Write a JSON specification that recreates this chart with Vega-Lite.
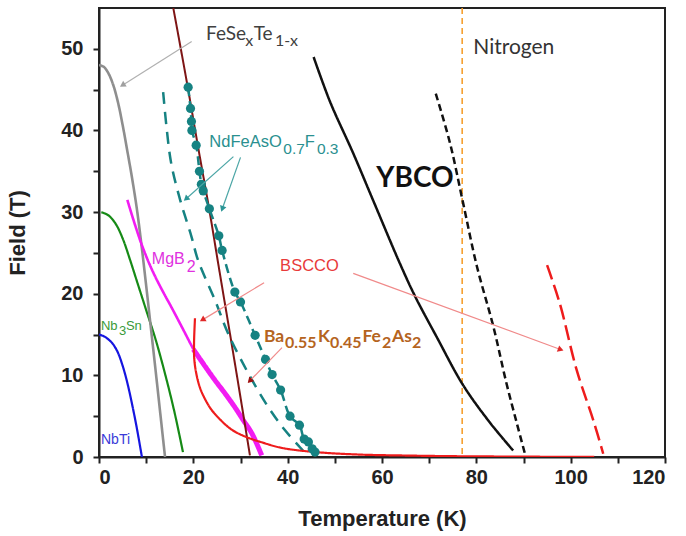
{
"$schema": "https://vega.github.io/schema/vega-lite/v6.json",
"width": 566, "height": 449,
"autosize": "none",
"padding": {"left": 99, "top": 8, "right": 21, "bottom": 79},
"background": "white",
"config": {
 "view": {"stroke": "#222", "strokeWidth": 2},
 "axis": {"grid": false, "domainColor": "#222", "domainWidth": 2, "tickColor": "#222", "tickWidth": 2, "tickSize": 6,
  "labelFont": "Liberation Sans", "labelFontWeight": "bold", "labelFontSize": 20, "labelColor": "#222",
  "titleFont": "Liberation Sans", "titleFontWeight": "bold", "titleFontSize": 22, "titleColor": "#222"}
},
"datasets": {
 "curves": [
  {"series":"NbTi","x":0,"y":15},{"series":"NbTi","x":1,"y":14.8},{"series":"NbTi","x":2,"y":14.4},{"series":"NbTi","x":3,"y":13.8},{"series":"NbTi","x":4,"y":12.8},{"series":"NbTi","x":5,"y":11.2},{"series":"NbTi","x":6,"y":9.1},{"series":"NbTi","x":7,"y":6.5},{"series":"NbTi","x":8,"y":3.6},{"series":"NbTi","x":9.1,"y":0},
  {"series":"Nb3Sn","x":0.5,"y":30},{"series":"Nb3Sn","x":2,"y":29.6},{"series":"Nb3Sn","x":3.5,"y":28.6},{"series":"Nb3Sn","x":5,"y":26.8},{"series":"Nb3Sn","x":6.5,"y":24.3},{"series":"Nb3Sn","x":8,"y":21.6},{"series":"Nb3Sn","x":10,"y":18},{"series":"Nb3Sn","x":12,"y":14.4},{"series":"Nb3Sn","x":14,"y":10.2},{"series":"Nb3Sn","x":16,"y":5.5},{"series":"Nb3Sn","x":17.8,"y":0.6},
  {"series":"FeSe","x":0,"y":48},{"series":"FeSe","x":1,"y":47.8},{"series":"FeSe","x":2,"y":47},{"series":"FeSe","x":3,"y":45.6},{"series":"FeSe","x":4,"y":43.5},{"series":"FeSe","x":5,"y":40.7},{"series":"FeSe","x":6,"y":37.5},{"series":"FeSe","x":7,"y":34.2},{"series":"FeSe","x":8,"y":30.5},{"series":"FeSe","x":9,"y":26},{"series":"FeSe","x":10,"y":21},{"series":"FeSe","x":11,"y":15.8},{"series":"FeSe","x":12,"y":10.6},{"series":"FeSe","x":13,"y":5.3},{"series":"FeSe","x":14,"y":0},
  {"series":"MgB2 thin","x":6,"y":31.5},{"series":"MgB2 thin","x":7,"y":29.6},{"series":"MgB2 thin","x":8,"y":27.8},{"series":"MgB2 thin","x":9,"y":26.1},{"series":"MgB2 thin","x":10.5,"y":23.9},{"series":"MgB2 thin","x":12,"y":22},{"series":"MgB2 thin","x":13.7,"y":20.1},{"series":"MgB2 thin","x":15.4,"y":18.3},{"series":"MgB2 thin","x":17.5,"y":16},{"series":"MgB2 thin","x":20,"y":13.2},
  {"series":"MgB2 thick","x":20,"y":13.2},{"series":"MgB2 thick","x":22.5,"y":11.1},{"series":"MgB2 thick","x":24.6,"y":9.4},{"series":"MgB2 thick","x":26.7,"y":7.8},{"series":"MgB2 thick","x":28.8,"y":6.1},{"series":"MgB2 thick","x":30.6,"y":4.5},{"series":"MgB2 thick","x":32.4,"y":2.9},{"series":"MgB2 thick","x":34.5,"y":0.2},
  {"series":"Ba","x":15.75,"y":55},{"series":"Ba","x":18.6,"y":46},{"series":"Ba","x":21,"y":38},{"series":"Ba","x":23.5,"y":29.9},{"series":"Ba","x":25.3,"y":23.6},{"series":"Ba","x":28,"y":14.3},{"series":"Ba","x":30,"y":7.3},{"series":"Ba","x":32,"y":0.2},
  {"series":"Nd dashed","x":13.6,"y":44.7},{"series":"Nd dashed","x":14.3,"y":40.5},{"series":"Nd dashed","x":15.3,"y":36},{"series":"Nd dashed","x":17.2,"y":31.5},{"series":"Nd dashed","x":19.6,"y":27},{"series":"Nd dashed","x":21,"y":24.1},{"series":"Nd dashed","x":24.6,"y":19.2},{"series":"Nd dashed","x":27.4,"y":15.1},{"series":"Nd dashed","x":31.7,"y":10.2},{"series":"Nd dashed","x":35.9,"y":6.1},{"series":"Nd dashed","x":39.4,"y":3.3},{"series":"Nd dashed","x":42.6,"y":1.2},{"series":"Nd dashed","x":43.8,"y":0.4},
  {"series":"BSCCO","x":20.35,"y":17},{"series":"BSCCO","x":20.15,"y":14},{"series":"BSCCO","x":20.2,"y":12},{"series":"BSCCO","x":20.6,"y":10.3},{"series":"BSCCO","x":21.4,"y":8.5},{"series":"BSCCO","x":22.3,"y":7.3},{"series":"BSCCO","x":23.7,"y":5.9},{"series":"BSCCO","x":25.5,"y":4.7},{"series":"BSCCO","x":28,"y":3.4},{"series":"BSCCO","x":31,"y":2.5},{"series":"BSCCO","x":34.5,"y":1.8},{"series":"BSCCO","x":38.9,"y":1.1},{"series":"BSCCO","x":46,"y":0.6},{"series":"BSCCO","x":55,"y":0.3},{"series":"BSCCO","x":65,"y":0.18},{"series":"BSCCO","x":75,"y":0.1},{"series":"BSCCO","x":85,"y":0.06},{"series":"BSCCO","x":95,"y":0.03},{"series":"BSCCO","x":105,"y":0.01},
  {"series":"BSCCO dashed","x":95,"y":23.5},{"series":"BSCCO dashed","x":97.7,"y":18.8},{"series":"BSCCO dashed","x":101.3,"y":10.6},{"series":"BSCCO dashed","x":104.8,"y":4.5},{"series":"BSCCO dashed","x":106.9,"y":0.4},
  {"series":"YBCO","x":45.5,"y":49},{"series":"YBCO","x":49,"y":43.5},{"series":"YBCO","x":53.9,"y":37.2},{"series":"YBCO","x":58,"y":31.6},{"series":"YBCO","x":63.8,"y":23.7},{"series":"YBCO","x":67,"y":19.7},{"series":"YBCO","x":71.6,"y":14.7},{"series":"YBCO","x":77.2,"y":8.8},{"series":"YBCO","x":82.9,"y":4.2},{"series":"YBCO","x":87.8,"y":0.8},
  {"series":"YBCO dashed","x":71.4,"y":44.5},{"series":"YBCO dashed","x":74.4,"y":38.5},{"series":"YBCO dashed","x":77.2,"y":31.1},{"series":"YBCO dashed","x":80.1,"y":23.4},{"series":"YBCO dashed","x":83.6,"y":16},{"series":"YBCO dashed","x":86.4,"y":9},{"series":"YBCO dashed","x":88.6,"y":4.1},{"series":"YBCO dashed","x":90.3,"y":0.4}
 ],
 "nd": [
  {"x":18.9,"y":45.3},{"x":19.4,"y":42.7},{"x":19.6,"y":41.1},{"x":19.7,"y":40},{"x":20.6,"y":38.2},{"x":21.3,"y":35},{"x":21.7,"y":33.4},{"x":22.1,"y":32.6},{"x":23.4,"y":30.4},{"x":25.4,"y":27.1},{"x":26.1,"y":25.3},{"x":28.8,"y":20.2},{"x":30,"y":19},{"x":33.1,"y":14.9},{"x":35.3,"y":11.95},{"x":36.7,"y":10.1},{"x":38.5,"y":8.2},{"x":40.5,"y":5},{"x":42.5,"y":3.9},{"x":43.5,"y":2.2},{"x":44.4,"y":1.85},{"x":45.2,"y":1},{"x":45.8,"y":0.6}
 ],
 "nitrogen": [{"x":77}],
 "arrows": [
  {"name":"FeSe","x":19.65,"y":50.9,"x2":5.15,"y2":45.6},
  {"name":"Nd1","x":28.5,"y":36.8,"x2":18.6,"y2":31.7},
  {"name":"Nd2","x":30,"y":36.7,"x2":26.2,"y2":30.5},
  {"name":"BS1","x":53.9,"y":22.5,"x2":97.7,"y2":13.2},
  {"name":"BS2","x":35,"y":21.35,"x2":22.1,"y2":16.86},
  {"name":"Ba","x":38.8,"y":13.4,"x2":32.1,"y2":9.4}
 ],
 "labels": [
  {"label":"FeSe","t":"FeSe","sub":false,"x":22.7,"y":51.04},
  {"label":"FeSe","t":"x","sub":true,"x":31.0,"y":51.04},
  {"label":"FeSe","t":"Te","sub":false,"x":32.8,"y":51.04},
  {"label":"FeSe","t":"1-x","sub":true,"x":37.3,"y":51.04},
  {"label":"Nitrogen","t":"Nitrogen","sub":false,"x":79.35,"y":49.4},
  {"label":"Nd","t":"NdFeAsO","sub":false,"x":23.4,"y":37.96},
  {"label":"Nd","t":"0.7","sub":true,"x":39.07,"y":37.96},
  {"label":"Nd","t":"F","sub":false,"x":43.6,"y":37.96},
  {"label":"Nd","t":"0.3","sub":true,"x":46.2,"y":37.96},
  {"label":"YBCO","t":"YBCO","sub":false,"x":58.8,"y":33.05},
  {"label":"BSCCO","t":"BSCCO","sub":false,"x":38.4,"y":22.8},
  {"label":"Ba","t":"Ba","sub":false,"x":34.98,"y":14.1},
  {"label":"Ba","t":"0.55","sub":true,"x":39.43,"y":14.1},
  {"label":"Ba","t":"K","sub":false,"x":46.43,"y":14.1},
  {"label":"Ba","t":"0.45","sub":true,"x":48.97,"y":14.1},
  {"label":"Ba","t":"Fe","sub":false,"x":55.86,"y":14.1},
  {"label":"Ba","t":"2","sub":true,"x":60.0,"y":14.1},
  {"label":"Ba","t":"As","sub":false,"x":62.12,"y":14.1},
  {"label":"Ba","t":"2","sub":true,"x":66.36,"y":14.1},
  {"label":"MgB2","t":"MgB","sub":false,"x":11.2,"y":23.7},
  {"label":"MgB2","t":"2","sub":true,"x":18.6,"y":23.7},
  {"label":"Nb3Sn","t":"Nb","sub":false,"x":0.4,"y":15.5},
  {"label":"Nb3Sn","t":"3","sub":true,"x":4.25,"y":15.5},
  {"label":"Nb3Sn","t":"Sn","sub":false,"x":5.7,"y":15.5},
  {"label":"NbTi","t":"NbTi","sub":false,"x":0.42,"y":1.64}
 ]
},
"layer": [
 {"data": {"name": "nitrogen"},
  "mark": {"type": "rule", "color": "#f5a030", "strokeWidth": 1.6, "strokeDash": [6, 4]},
  "encoding": {"x": {"field": "x", "type": "quantitative", "scale": {"domain": [0, 120], "nice": false}, "axis": {"values": [0,10,20,30,40,50,60,70,80,90,100,110,120], "labelExpr": "datum.value % 20 === 0 ? datum.label : ''", "labelPadding": 4, "titlePadding": 21}, "title": "Temperature (K)"}}},
 {"data": {"name": "curves"},
  "mark": {"type": "line", "clip": true, "interpolate": "catmull-rom"},
  "encoding": {
   "x": {"field": "x", "type": "quantitative", "scale": {"domain": [0, 120], "nice": false}, "axis": {"values": [0,10,20,30,40,50,60,70,80,90,100,110,120], "labelExpr": "datum.value % 20 === 0 ? datum.label : ''", "labelPadding": 4, "titlePadding": 21}, "title": "Temperature (K)"},
   "y": {"field": "y", "type": "quantitative", "scale": {"domain": [0, 55], "nice": false}, "axis": {"values": [0,5,10,15,20,25,30,35,40,45,50], "labelExpr": "datum.value % 10 === 0 ? datum.label : ''", "labelPadding": 10, "titlePadding": 31}, "title": "Field (T)"},
   "color": {"field": "series", "type": "nominal", "legend": null, "scale": {"domain": ["NbTi","Nb3Sn","FeSe","MgB2 thin","MgB2 thick","Ba","Nd dashed","BSCCO","BSCCO dashed","YBCO","YBCO dashed"], "range": ["#1515e0","#168a16","#8e8e8e","#f21cf2","#f21cf2","#7e1515","#168282","#ee1c1c","#ee1c1c","#111111","#111111"]}},
   "strokeDash": {"field": "series", "type": "nominal", "legend": null, "scale": {"domain": ["NbTi","Nb3Sn","FeSe","MgB2 thin","MgB2 thick","Ba","Nd dashed","BSCCO","BSCCO dashed","YBCO","YBCO dashed"], "range": [[1,0],[1,0],[1,0],[1,0],[1,0],[1,0],[12,8],[1,0],[15,6],[1,0],[7,4]]}},
   "strokeWidth": {"field": "series", "type": "ordinal", "legend": null, "scale": {"type": "ordinal", "domain": ["NbTi","Nb3Sn","FeSe","MgB2 thin","MgB2 thick","Ba","Nd dashed","BSCCO","BSCCO dashed","YBCO","YBCO dashed"], "range": [2.2,2.2,2.6,2.6,5,2,2.5,2.2,2.5,2.5,2.5]}},
   "order": {"value": null}
  }},
 {"data": {"name": "nd"},
  "mark": {"type": "line", "color": "#168282", "strokeWidth": 2.5, "strokeDash": [9, 5], "interpolate": "catmull-rom"},
  "encoding": {"x": {"field": "x", "type": "quantitative", "title": "Temperature (K)"}, "y": {"field": "y", "type": "quantitative", "title": "Field (T)"}, "order": {"value": null}}},
 {"data": {"name": "nd"},
  "mark": {"type": "point", "shape": "circle", "filled": true, "color": "#168282", "opacity": 1, "size": 85},
  "encoding": {"x": {"field": "x", "type": "quantitative", "title": "Temperature (K)"}, "y": {"field": "y", "type": "quantitative", "title": "Field (T)"}}},
 {"data": {"name": "arrows"}, "transform": [{"filter": "datum.name === 'FeSe'"}],
  "mark": {"type": "rule", "color": "#b0b0b0", "strokeWidth": 1.2},
  "encoding": {"x": {"field": "x", "type": "quantitative", "title": "Temperature (K)"}, "y": {"field": "y", "type": "quantitative", "title": "Field (T)"}, "x2": {"field": "x2"}, "y2": {"field": "y2"}}},
 {"data": {"name": "arrows"}, "transform": [{"filter": "datum.name === 'Nd1' || datum.name === 'Nd2'"}],
  "mark": {"type": "rule", "color": "#4aa5a5", "strokeWidth": 1.2},
  "encoding": {"x": {"field": "x", "type": "quantitative", "title": "Temperature (K)"}, "y": {"field": "y", "type": "quantitative", "title": "Field (T)"}, "x2": {"field": "x2"}, "y2": {"field": "y2"}}},
 {"data": {"name": "arrows"}, "transform": [{"filter": "datum.name === 'BS1' || datum.name === 'BS2' || datum.name === 'Ba'"}],
  "mark": {"type": "rule", "color": "#f08a8a", "strokeWidth": 1.2},
  "encoding": {"x": {"field": "x", "type": "quantitative", "title": "Temperature (K)"}, "y": {"field": "y", "type": "quantitative", "title": "Field (T)"}, "x2": {"field": "x2"}, "y2": {"field": "y2"}}},
 {"data": {"name": "arrows"}, "transform": [{"filter": "datum.name === 'FeSe'"}],
  "mark": {"type": "point", "shape": "triangle", "filled": true, "opacity": 1, "size": 45, "angle": 237.7, "color": "#a0a0a0"},
  "encoding": {"x": {"field": "x2", "type": "quantitative", "title": "Temperature (K)"}, "y": {"field": "y2", "type": "quantitative", "title": "Field (T)"}}},
 {"data": {"name": "arrows"}, "transform": [{"filter": "datum.name === 'Nd1'"}],
  "mark": {"type": "point", "shape": "triangle", "filled": true, "opacity": 1, "size": 45, "angle": 228.2, "color": "#2a9595"},
  "encoding": {"x": {"field": "x2", "type": "quantitative", "title": "Temperature (K)"}, "y": {"field": "y2", "type": "quantitative", "title": "Field (T)"}}},
 {"data": {"name": "arrows"}, "transform": [{"filter": "datum.name === 'Nd2'"}],
  "mark": {"type": "point", "shape": "triangle", "filled": true, "opacity": 1, "size": 45, "angle": 199.6, "color": "#2a9595"},
  "encoding": {"x": {"field": "x2", "type": "quantitative", "title": "Temperature (K)"}, "y": {"field": "y2", "type": "quantitative", "title": "Field (T)"}}},
 {"data": {"name": "arrows"}, "transform": [{"filter": "datum.name === 'BS1'"}],
  "mark": {"type": "point", "shape": "triangle", "filled": true, "opacity": 1, "size": 45, "angle": 110.2, "color": "#e02828"},
  "encoding": {"x": {"field": "x2", "type": "quantitative", "title": "Temperature (K)"}, "y": {"field": "y2", "type": "quantitative", "title": "Field (T)"}}},
 {"data": {"name": "arrows"}, "transform": [{"filter": "datum.name === 'BS2'"}],
  "mark": {"type": "point", "shape": "triangle", "filled": true, "opacity": 1, "size": 45, "angle": 238.9, "color": "#e02828"},
  "encoding": {"x": {"field": "x2", "type": "quantitative", "title": "Temperature (K)"}, "y": {"field": "y2", "type": "quantitative", "title": "Field (T)"}}},
 {"data": {"name": "arrows"}, "transform": [{"filter": "datum.name === 'Ba'"}],
  "mark": {"type": "point", "shape": "triangle", "filled": true, "opacity": 1, "size": 45, "angle": 223.2, "color": "#a01010"},
  "encoding": {"x": {"field": "x2", "type": "quantitative", "title": "Temperature (K)"}, "y": {"field": "y2", "type": "quantitative", "title": "Field (T)"}}},
 {"data": {"name": "labels"}, "transform": [{"filter": "datum.label === 'FeSe' && !datum.sub"}],
  "mark": {"type": "text", "align": "left", "baseline": "alphabetic", "font": "Lato", "fontSize": 19, "color": "#404040"},
  "encoding": {"x": {"field": "x", "type": "quantitative", "title": "Temperature (K)"}, "y": {"field": "y", "type": "quantitative", "title": "Field (T)"}, "text": {"field": "t"}}},
 {"data": {"name": "labels"}, "transform": [{"filter": "datum.label === 'FeSe' && datum.sub"}],
  "mark": {"type": "text", "align": "left", "baseline": "alphabetic", "font": "Lato", "fontSize": 16, "dy": 6, "color": "#404040"},
  "encoding": {"x": {"field": "x", "type": "quantitative", "title": "Temperature (K)"}, "y": {"field": "y", "type": "quantitative", "title": "Field (T)"}, "text": {"field": "t"}}},
 {"data": {"name": "labels"}, "transform": [{"filter": "datum.label === 'Nitrogen'"}],
  "mark": {"type": "text", "align": "left", "baseline": "alphabetic", "font": "Lato", "fontSize": 21, "color": "#333333"},
  "encoding": {"x": {"field": "x", "type": "quantitative", "title": "Temperature (K)"}, "y": {"field": "y", "type": "quantitative", "title": "Field (T)"}, "text": {"field": "t"}}},
 {"data": {"name": "labels"}, "transform": [{"filter": "datum.label === 'Nd' && !datum.sub"}],
  "mark": {"type": "text", "align": "left", "baseline": "alphabetic", "font": "Liberation Sans", "fontSize": 16.5, "color": "#2a9090"},
  "encoding": {"x": {"field": "x", "type": "quantitative", "title": "Temperature (K)"}, "y": {"field": "y", "type": "quantitative", "title": "Field (T)"}, "text": {"field": "t"}}},
 {"data": {"name": "labels"}, "transform": [{"filter": "datum.label === 'Nd' && datum.sub"}],
  "mark": {"type": "text", "align": "left", "baseline": "alphabetic", "font": "Liberation Sans", "fontSize": 15.5, "dy": 7, "color": "#2a9090"},
  "encoding": {"x": {"field": "x", "type": "quantitative", "title": "Temperature (K)"}, "y": {"field": "y", "type": "quantitative", "title": "Field (T)"}, "text": {"field": "t"}}},
 {"data": {"name": "labels"}, "transform": [{"filter": "datum.label === 'YBCO'"}],
  "mark": {"type": "text", "align": "left", "baseline": "alphabetic", "font": "Lato", "fontWeight": "bold", "fontSize": 28, "color": "#111111"},
  "encoding": {"x": {"field": "x", "type": "quantitative", "title": "Temperature (K)"}, "y": {"field": "y", "type": "quantitative", "title": "Field (T)"}, "text": {"field": "t"}}},
 {"data": {"name": "labels"}, "transform": [{"filter": "datum.label === 'BSCCO'"}],
  "mark": {"type": "text", "align": "left", "baseline": "alphabetic", "font": "Liberation Sans", "fontSize": 16.5, "color": "#e83a3a"},
  "encoding": {"x": {"field": "x", "type": "quantitative", "title": "Temperature (K)"}, "y": {"field": "y", "type": "quantitative", "title": "Field (T)"}, "text": {"field": "t"}}},
 {"data": {"name": "labels"}, "transform": [{"filter": "datum.label === 'Ba' && !datum.sub"}],
  "mark": {"type": "text", "align": "left", "baseline": "alphabetic", "font": "Lato", "fontWeight": "bold", "fontSize": 17.5, "color": "#b5641e"},
  "encoding": {"x": {"field": "x", "type": "quantitative", "title": "Temperature (K)"}, "y": {"field": "y", "type": "quantitative", "title": "Field (T)"}, "text": {"field": "t"}}},
 {"data": {"name": "labels"}, "transform": [{"filter": "datum.label === 'Ba' && datum.sub"}],
  "mark": {"type": "text", "align": "left", "baseline": "alphabetic", "font": "Lato", "fontWeight": "bold", "fontSize": 16, "dy": 6.5, "color": "#b5641e"},
  "encoding": {"x": {"field": "x", "type": "quantitative", "title": "Temperature (K)"}, "y": {"field": "y", "type": "quantitative", "title": "Field (T)"}, "text": {"field": "t"}}},
 {"data": {"name": "labels"}, "transform": [{"filter": "datum.label === 'MgB2' && !datum.sub"}],
  "mark": {"type": "text", "align": "left", "baseline": "alphabetic", "font": "Liberation Sans", "fontSize": 16, "color": "#e030e0"},
  "encoding": {"x": {"field": "x", "type": "quantitative", "title": "Temperature (K)"}, "y": {"field": "y", "type": "quantitative", "title": "Field (T)"}, "text": {"field": "t"}}},
 {"data": {"name": "labels"}, "transform": [{"filter": "datum.label === 'MgB2' && datum.sub"}],
  "mark": {"type": "text", "align": "left", "baseline": "alphabetic", "font": "Liberation Sans", "fontSize": 16, "dy": 8, "color": "#e030e0"},
  "encoding": {"x": {"field": "x", "type": "quantitative", "title": "Temperature (K)"}, "y": {"field": "y", "type": "quantitative", "title": "Field (T)"}, "text": {"field": "t"}}},
 {"data": {"name": "labels"}, "transform": [{"filter": "datum.label === 'Nb3Sn' && !datum.sub"}],
  "mark": {"type": "text", "align": "left", "baseline": "alphabetic", "font": "Liberation Sans", "fontSize": 13, "color": "#3a9a3a"},
  "encoding": {"x": {"field": "x", "type": "quantitative", "title": "Temperature (K)"}, "y": {"field": "y", "type": "quantitative", "title": "Field (T)"}, "text": {"field": "t"}}},
 {"data": {"name": "labels"}, "transform": [{"filter": "datum.label === 'Nb3Sn' && datum.sub"}],
  "mark": {"type": "text", "align": "left", "baseline": "alphabetic", "font": "Liberation Sans", "fontSize": 13, "dy": 5, "color": "#3a9a3a"},
  "encoding": {"x": {"field": "x", "type": "quantitative", "title": "Temperature (K)"}, "y": {"field": "y", "type": "quantitative", "title": "Field (T)"}, "text": {"field": "t"}}},
 {"data": {"name": "labels"}, "transform": [{"filter": "datum.label === 'NbTi'"}],
  "mark": {"type": "text", "align": "left", "baseline": "alphabetic", "font": "Liberation Sans", "fontSize": 14, "color": "#3a3ad8"},
  "encoding": {"x": {"field": "x", "type": "quantitative", "title": "Temperature (K)"}, "y": {"field": "y", "type": "quantitative", "title": "Field (T)"}, "text": {"field": "t"}}}
]
}
